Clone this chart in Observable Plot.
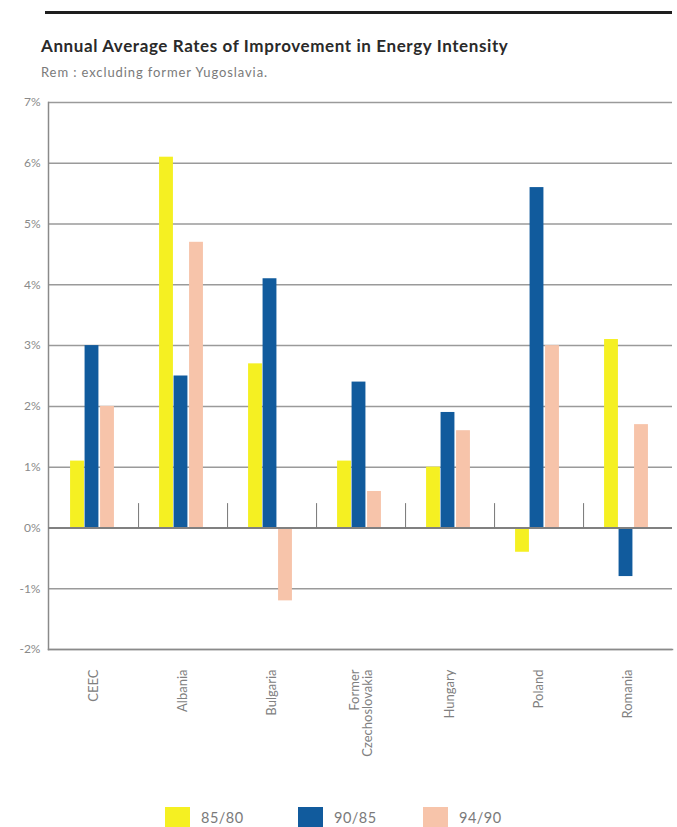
<!DOCTYPE html>
<html>
<head>
<meta charset="utf-8">
<script src="https://cdn.jsdelivr.net/npm/d3@7"></script>
<script src="https://cdn.jsdelivr.net/npm/@observablehq/plot@0.6"></script>
<style>
  html, body { margin: 0; padding: 0; background: #fff; }
  #wrap { position: relative; width: 677px; height: 827px; overflow: hidden; font-family: Lato, "Open Sans", sans-serif; }
  #topline { position: absolute; left: 45px; top: 11px; width: 627px; height: 3px; background: #1e1e1e; }
  #title { position: absolute; left: 41px; top: 35px; font-size: 17px; font-weight: bold; color: #2a2a2a; letter-spacing: 0.6px; }
  #subtitle { position: absolute; left: 41px; top: 64px; font-size: 13px; color: #7a7a7a; letter-spacing: 0.9px; }
  #chart { position: absolute; left: 0; top: 90px; }
  #legend { position: absolute; top: 807px; left: 0; width: 677px; height: 20px; }
  .lg { position: absolute; top: 0; display: flex; align-items: center; font-size: 14.5px; color: #7a7a7a; letter-spacing: 0.5px; }
  .sw { width: 25px; height: 20px; margin-right: 11px; }
</style>
</head>
<body>
<div id="wrap">
  <div id="topline"></div>
  <div id="title">Annual Average Rates of Improvement in Energy Intensity</div>
  <div id="subtitle">Rem : excluding former Yugoslavia.</div>
  <div id="chart"></div>
  <div id="legend"></div>
</div>
<script>
const countries = ["CEEC", "Albania", "Bulgaria", "Former\nCzechoslovakia", "Hungary", "Poland", "Romania"];
const series = ["85/80", "90/85", "94/90"];
const colors = ["#f5f022", "#115b9d", "#f7c4aa"];
const v8580 = [1.1, 6.1, 2.7, 1.1, 1.0, -0.4, 3.1];
const v9085 = [3.0, 2.5, 4.1, 2.4, 1.9, 5.6, -0.8];
const v9490 = [2.0, 4.7, -1.2, 0.6, 1.6, 3.0, 1.7];
const yTicks = [-2, -1, 0, 1, 2, 3, 4, 5, 6, 7];

const seriesValues = [v8580, v9085, v9490];
const rows = seriesValues.map((vals, s) => countries.map((c, i) => ({country: c, series: series[s], value: vals[i]})));

const W = 677, mL = 48, mR = 5;
const band = (W - mL - mR) / countries.length;
const barW = 14;
const inset = (band - barW) / 2;
const offsets = [-16.5, -2, 13.5];

const chart = Plot.plot({
  width: W,
  height: 689,
  marginTop: 12,
  marginBottom: 130,
  marginLeft: mL,
  marginRight: mR,
  style: {fontFamily: "Lato, 'Open Sans', sans-serif", background: "#fff"},
  x: {domain: countries, padding: 0, label: null},
  y: {domain: [-2, 7], label: null},
  marks: [
    Plot.gridY(yTicks, {stroke: "#9a9a9a", strokeOpacity: 1, strokeWidth: 1.5}),
    Plot.frame({anchor: "left", stroke: "#8a8a8a", strokeWidth: 1.5}),
    Plot.frame({anchor: "bottom", stroke: "#8a8a8a", strokeWidth: 1.5}),
    ...rows.map((r, s) => Plot.barY(r, {
      x: "country", y: "value", fill: colors[s],
      insetLeft: inset, insetRight: inset, dx: offsets[s]
    })),
    Plot.ruleY([0], {stroke: "#808080", strokeWidth: 2}),
    Plot.ruleX(countries.slice(0, -1), {x: d => d, y1: 0, y2: 0.4, dx: band / 2, stroke: "#777", strokeWidth: 1}),
    Plot.axisY(yTicks, {tickSize: 0, tickPadding: 8, tickFormat: d => d + "%", fontSize: 12, fill: "#8a8a8a", label: null}),
    Plot.axisX({tickSize: 0, tickPadding: 20, tickRotate: -90, fontSize: 13, fill: "#808080", label: null})
  ]
});
document.getElementById("chart").appendChild(chart);

const legend = document.getElementById("legend");
const lgX = [165, 298, 423];
series.forEach((s, i) => {
  const item = document.createElement("div");
  item.className = "lg";
  item.style.left = lgX[i] + "px";
  const sw = document.createElement("div");
  sw.className = "sw";
  sw.style.background = colors[i];
  const t = document.createElement("span");
  t.textContent = s;
  item.appendChild(sw);
  item.appendChild(t);
  legend.appendChild(item);
});
</script>
</body>
</html>
